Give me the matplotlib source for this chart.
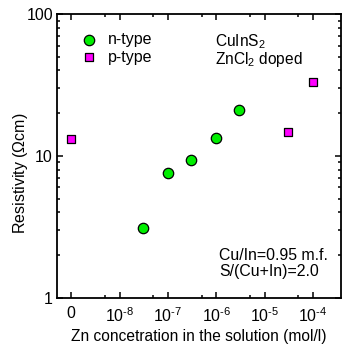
import matplotlib
matplotlib.use("Agg")
import matplotlib.pyplot as plt
from matplotlib.ticker import LogLocator, NullFormatter, FixedLocator
import numpy as np

plt.rcParams['font.family'] = ['Liberation Sans', 'DejaVu Sans']
plt.rcParams['mathtext.fontset'] = 'custom'
plt.rcParams['mathtext.rm'] = 'Liberation Sans'
plt.rcParams['mathtext.it'] = 'Liberation Sans:italic'

# datos (el "0" de concentracion se dibuja en 1e-9)
n_conc = [3e-8, 1e-7, 3e-7, 1e-6, 3e-6]
n_res = [3.1, 7.6, 9.3, 13.4, 21.2]
p_conc = [1e-9, 3e-5, 1e-4]
p_res = [13.2, 14.8, 33.0]

xtick_pos = [1e-9, 1e-8, 1e-7, 1e-6, 1e-5, 1e-4]
xtick_lab = ['0', '10$^{\\text{-8}}$', '10$^{\\text{-7}}$', '10$^{\\text{-6}}$',
             '10$^{\\text{-5}}$', '10$^{\\text{-4}}$']
xminor_pos = [5e-9, 5e-8, 5e-7, 5e-6, 5e-5]
ytick_pos = [1, 10, 100]
ytick_lab = ['1', '10', '100']

fig = plt.figure(figsize=(3.46, 3.46), dpi=100)
ax = fig.add_axes([0.165, 0.139, 0.8205, 0.8205])

ax.scatter(n_conc, n_res, s=56, marker='o', facecolor='#00ee00',
           edgecolor='black', linewidth=0.9, zorder=3, label='n-type')
ax.scatter(p_conc, p_res, s=28, marker='s', facecolor='#ff00ff',
           edgecolor='black', linewidth=0.9, zorder=3, label='p-type')

ax.set_xscale('log')
ax.set_yscale('log')
ax.set_xlim(5.1e-10, 3.8e-4)
ax.set_ylim(1, 100)

ax.xaxis.set_major_locator(FixedLocator(xtick_pos))
ax.set_xticklabels(xtick_lab)
ax.xaxis.set_minor_locator(FixedLocator(xminor_pos))
ax.xaxis.set_minor_formatter(NullFormatter())
ax.yaxis.set_major_locator(FixedLocator(ytick_pos))
ax.set_yticklabels(ytick_lab)
ax.yaxis.set_minor_locator(LogLocator(base=10, subs=np.arange(2, 10)))
ax.yaxis.set_minor_formatter(NullFormatter())

ax.tick_params(which='both', direction='in', top=True, right=True, width=1.1,
               labelsize=11.5)
ax.tick_params(axis='x', which='major', pad=6)
ax.tick_params(axis='y', which='major', pad=3)
ax.tick_params(which='major', length=4)
ax.tick_params(which='minor', length=2.3)
for s in ax.spines.values():
    s.set_linewidth(1.3)

ax.set_xlabel('Zn concetration in the solution (mol/l)', fontsize=11.2, labelpad=3)
ax.set_ylabel('Resistivity ($\\Omega$cm)', fontsize=11.5)
ax.yaxis.set_label_coords(-0.095, 0.44)

ax.legend(loc='upper left', bbox_to_anchor=(0.057, 0.96), frameon=False,
          fontsize=11.5, handletextpad=0.55, labelspacing=0.18, borderaxespad=0,
          handlelength=1.2)

ax.text(0.555, 0.935, 'CuInS$_2$\nZnCl$_2$ doped', transform=ax.transAxes,
        fontsize=11.2, va='top', linespacing=0.92)
ax.text(0.57, 0.122, 'Cu/In=0.95 m.f.\nS/(Cu+In)=2.0', transform=ax.transAxes,
        fontsize=11.4, va='center', linespacing=1.1)

fig.savefig('out.png', dpi=100)
